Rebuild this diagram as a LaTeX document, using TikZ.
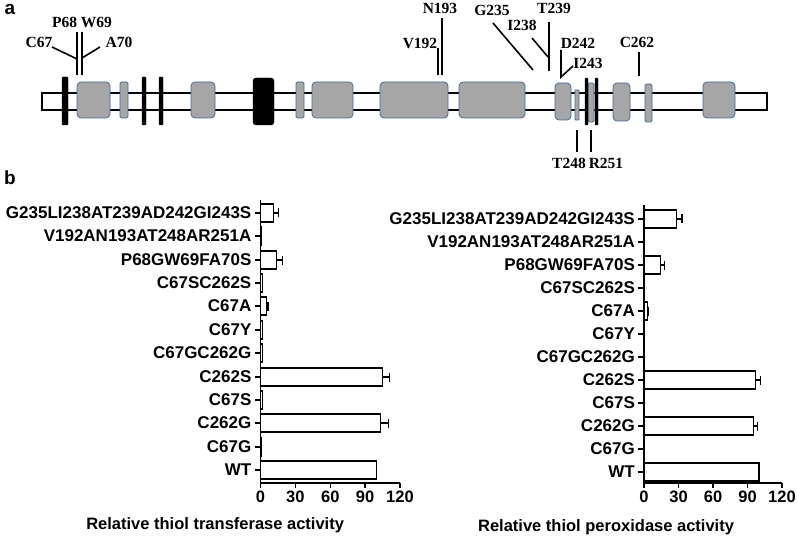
\documentclass[tikz,border=0pt]{standalone}
\usepackage{fontspec}
\setmainfont{Liberation Serif}
\setsansfont{Liberation Sans}

\definecolor{exongray}{RGB}{166,166,166}
\definecolor{exonedge}{RGB}{68,104,150}

\tikzset{
    exon/.style={fill=exongray, draw=exonedge, line width=0.8pt, rounded corners=4pt},
    slim/.style={fill=exongray, draw=exonedge, line width=0.8pt, rounded corners=1.5pt},
    motif/.style={fill=black, rounded corners=1pt},
    site/.style={font=\bfseries\fontsize{15.5}{15.5}\selectfont, inner sep=0pt},
    pin/.style={line width=1.6pt},
    panel/.style={font=\sffamily\bfseries\fontsize{19}{19}\selectfont, inner sep=0pt},
    cat/.style={font=\sffamily\bfseries\fontsize{17}{17}\selectfont, anchor=east, inner sep=0pt, xshift=-2.5pt},
    ticklab/.style={font=\sffamily\bfseries\fontsize{16.5}{17}\selectfont, inner sep=0pt},
    actbar/.style={draw=black, fill=white, line width=1.2pt},
    errbar/.style={line width=1.2pt},
    axis/.style={line width=1.3pt},
}

\begin{document}
\begin{tikzpicture}[x=1pt, y=-1pt]
    \useasboundingbox (0,0) rectangle (797,537);

    % panel a: domain map
    \node[panel] (pa) at (10,9) {a};
    \draw[line width=1.8pt, fill=white] (42,93) rectangle (767,110);

    \draw[motif] (62,77) rectangle (68,125);
    \draw[exon] (77,82) rectangle (110,118);
    \draw[slim] (120,82) rectangle (128,118);
    \draw[motif] (142,77) rectangle (146,125);
    \draw[motif] (159,77) rectangle (163,125);
    \draw[exon] (191,82) rectangle (215,118);
    \draw[motif, rounded corners=3pt] (253,78) rectangle (274,125);
    \draw[slim] (296,82) rectangle (304,118);
    \draw[exon] (312,82) rectangle (353,118);
    \draw[exon] (380,82) rectangle (448,118);
    \draw[exon] (459,82) rectangle (525,118);
    \draw[exon] (555,83) rectangle (571,120);
    \draw[slim, rounded corners=0.5pt] (575,90) rectangle (579,120);
    \draw[slim] (588,83) rectangle (594,122);
    \draw[motif] (585,78) rectangle (588,125);
    \draw[motif] (595,78) rectangle (598,125);
    \draw[exon] (613,83) rectangle (630,121);
    \draw[slim] (645,84) rectangle (652,122);
    \draw[exon] (703,82) rectangle (735,118);

    % site labels
    \node[site] (pw) at (82,22) {P68 W69};
    \node[site] (c67) at (39,42) {C67};
    \node[site] (a70) at (119,42) {A70};
    \draw[pin] (52,47) -- (77,59);
    \draw[pin] (77,32) -- (77,75);
    \draw[pin] (82,32) -- (82,75);
    \draw[pin] (100,47) -- (82,58);

    \node[site] (n193) at (440,8) {N193};
    \node[site] (v192) at (420,43) {V192};
    \draw[pin] (442,18) -- (442,75);
    \draw[pin] (438,48) -- (438,75);

    \node[site] (g235) at (492,10) {G235};
    \node[site] (i238) at (522,25) {I238};
    \node[site] (t239) at (554,8) {T239};
    \draw[pin] (493,23) -- (533,70);
    \draw[pin] (532,38) -- (548,57);
    \draw[pin] (549,22) -- (549,71);

    \node[site] (d242) at (578,43) {D242};
    \node[site] (i243) at (588,63) {I243};
    \draw[pin] (561,50) -- (561,77) -- (573,66);

    \node[site] (c262) at (637,42) {C262};
    \draw[pin] (639,52) -- (639,76);

    \node[site] (t248) at (569,163) {T248};
    \node[site] (r251) at (606,163) {R251};
    \draw[pin] (577,130) -- (577,152);
    \draw[pin] (591,130) -- (591,152);

    % panel b: activities
    \node[panel] (pb) at (10,178) {b};

    \begin{scope}[shift={(260.5,0)}, x=1.1625pt]
        \draw[axis] (0,200) -- (0,483) -- (120,483);
        \draw[axis] (0,483) -- ++(0pt,-5pt);
        \draw[axis] (30,483) -- ++(0pt,-5pt);
        \draw[axis] (60,483) -- ++(0pt,-5pt);
        \draw[axis] (90,483) -- ++(0pt,-5pt);
        \draw[axis] (120,483) -- ++(0pt,-5pt);
        \node[ticklab] (lt0) at (0,497) {0};
        \node[ticklab] (lt30) at (30,497) {30};
        \node[ticklab] (lt60) at (60,497) {60};
        \node[ticklab] (lt90) at (90,497) {90};
        \node[ticklab] (lt120) at (120,497) {120};
        \node[ticklab] (lxlab) at (-39,525) {Relative thiol transferase activity};

        \draw[axis] (0,213) -- ++(-6pt,0pt) node[cat] (lg235) {G235LI238AT239AD242GI243S};
        \draw[actbar] (0,204) rectangle (11,222);
        \draw[errbar] (11,213) -- (15.5,213) (15.5,208.5) -- (15.5,217.5);

        \draw[axis] (0,236) -- ++(-6pt,0pt) node[cat] (lv192) {V192AN193AT248AR251A};
        \draw[actbar] (0,227) rectangle (1.2,245);

        \draw[axis] (0,260) -- ++(-6pt,0pt) node[cat] (lp68) {P68GW69FA70S};
        \draw[actbar] (0,251) rectangle (14,269);
        \draw[errbar] (14,260) -- (19,260) (19,255.5) -- (19,264.5);

        \draw[axis] (0,283) -- ++(-6pt,0pt) node[cat] (lc67s262s) {C67SC262S};
        \draw[actbar] (0,274) rectangle (2,292);

        \draw[axis] (0,306) -- ++(-6pt,0pt) node[cat] (lc67a) {C67A};
        \draw[actbar] (0,297) rectangle (5,315);
        \draw[errbar] (5,306) -- (6.5,306) (6.5,301.5) -- (6.5,310.5);

        \draw[axis] (0,330) -- ++(-6pt,0pt) node[cat] (lc67y) {C67Y};
        \draw[actbar] (0,321) rectangle (1.5,339);

        \draw[axis] (0,353) -- ++(-6pt,0pt) node[cat] (lc67g262g) {C67GC262G};
        \draw[actbar] (0,344) rectangle (1.5,362);

        \draw[axis] (0,377) -- ++(-6pt,0pt) node[cat] (lc262s) {C262S};
        \draw[actbar] (0,368) rectangle (105,386);
        \draw[errbar] (105,377) -- (111,377) (111,372.5) -- (111,381.5);

        \draw[axis] (0,400) -- ++(-6pt,0pt) node[cat] (lc67s) {C67S};
        \draw[actbar] (0,391) rectangle (2,409);

        \draw[axis] (0,423) -- ++(-6pt,0pt) node[cat] (lc262g) {C262G};
        \draw[actbar] (0,414) rectangle (103.5,432);
        \draw[errbar] (103.5,423) -- (110,423) (110,418.5) -- (110,427.5);

        \draw[axis] (0,447) -- ++(-6pt,0pt) node[cat] (lc67g) {C67G};
        \draw[actbar] (0,438) rectangle (1.2,456);

        \draw[axis] (0,470) -- ++(-6pt,0pt) node[cat] (lwt) {WT};
        \draw[actbar] (0,461) rectangle (100,479);
    \end{scope}

    \begin{scope}[shift={(644,0)}, x=1.15pt]
        \draw[axis] (0,205) -- (0,483) -- (120,483);
        \draw[axis] (0,483) -- ++(0pt,-5pt);
        \draw[axis] (30,483) -- ++(0pt,-5pt);
        \draw[axis] (60,483) -- ++(0pt,-5pt);
        \draw[axis] (90,483) -- ++(0pt,-5pt);
        \draw[axis] (120,483) -- ++(0pt,-5pt);
        \node[ticklab] (rt0) at (0,497) {0};
        \node[ticklab] (rt30) at (30,497) {30};
        \node[ticklab] (rt60) at (60,497) {60};
        \node[ticklab] (rt90) at (90,497) {90};
        \node[ticklab] (rt120) at (120,497) {120};
        \node[ticklab] (rxlab) at (-33,527) {Relative thiol peroxidase activity};

        \draw[axis] (0,219) -- ++(-6pt,0pt) node[cat] (rg235) {G235LI238AT239AD242GI243S};
        \draw[actbar] (0,210) rectangle (28,228);
        \draw[errbar] (28,219) -- (33,219) (33,214.5) -- (33,223.5);

        \draw[axis] (0,242) -- ++(-6pt,0pt) node[cat] (rv192) {V192AN193AT248AR251A};
        \draw[actbar] (0,233) rectangle (0.5,251);

        \draw[axis] (0,265) -- ++(-6pt,0pt) node[cat] (rp68) {P68GW69FA70S};
        \draw[actbar] (0,256) rectangle (14,274);
        \draw[errbar] (14,265) -- (18,265) (18,260.5) -- (18,269.5);

        \draw[axis] (0,288) -- ++(-6pt,0pt) node[cat] (rc67s262s) {C67SC262S};
        \draw[actbar] (0,279) rectangle (0.5,297);

        \draw[axis] (0,311) -- ++(-6pt,0pt) node[cat] (rc67a) {C67A};
        \draw[actbar] (0,302) rectangle (3,320);
        \draw[errbar] (3,311) -- (4,311) (4,306.5) -- (4,315.5);

        \draw[axis] (0,334) -- ++(-6pt,0pt) node[cat] (rc67y) {C67Y};
        \draw[actbar] (0,325) rectangle (0.5,343);

        \draw[axis] (0,357) -- ++(-6pt,0pt) node[cat] (rc67g262g) {C67GC262G};
        \draw[actbar] (0,348) rectangle (0.5,366);

        \draw[axis] (0,380) -- ++(-6pt,0pt) node[cat] (rc262s) {C262S};
        \draw[actbar] (0,371) rectangle (97,389);
        \draw[errbar] (97,380) -- (101.5,380) (101.5,375.5) -- (101.5,384.5);

        \draw[axis] (0,403) -- ++(-6pt,0pt) node[cat] (rc67s) {C67S};
        \draw[actbar] (0,394) rectangle (0.5,412);

        \draw[axis] (0,426) -- ++(-6pt,0pt) node[cat] (rc262g) {C262G};
        \draw[actbar] (0,417) rectangle (95.5,435);
        \draw[errbar] (95.5,426) -- (99,426) (99,421.5) -- (99,430.5);

        \draw[axis] (0,449) -- ++(-6pt,0pt) node[cat] (rc67g) {C67G};
        \draw[actbar] (0,440) rectangle (0.5,458);

        \draw[axis] (0,472) -- ++(-6pt,0pt) node[cat] (rwt) {WT};
        \draw[actbar] (0,463) rectangle (100,481);
    \end{scope}
\end{tikzpicture}
\end{document}
